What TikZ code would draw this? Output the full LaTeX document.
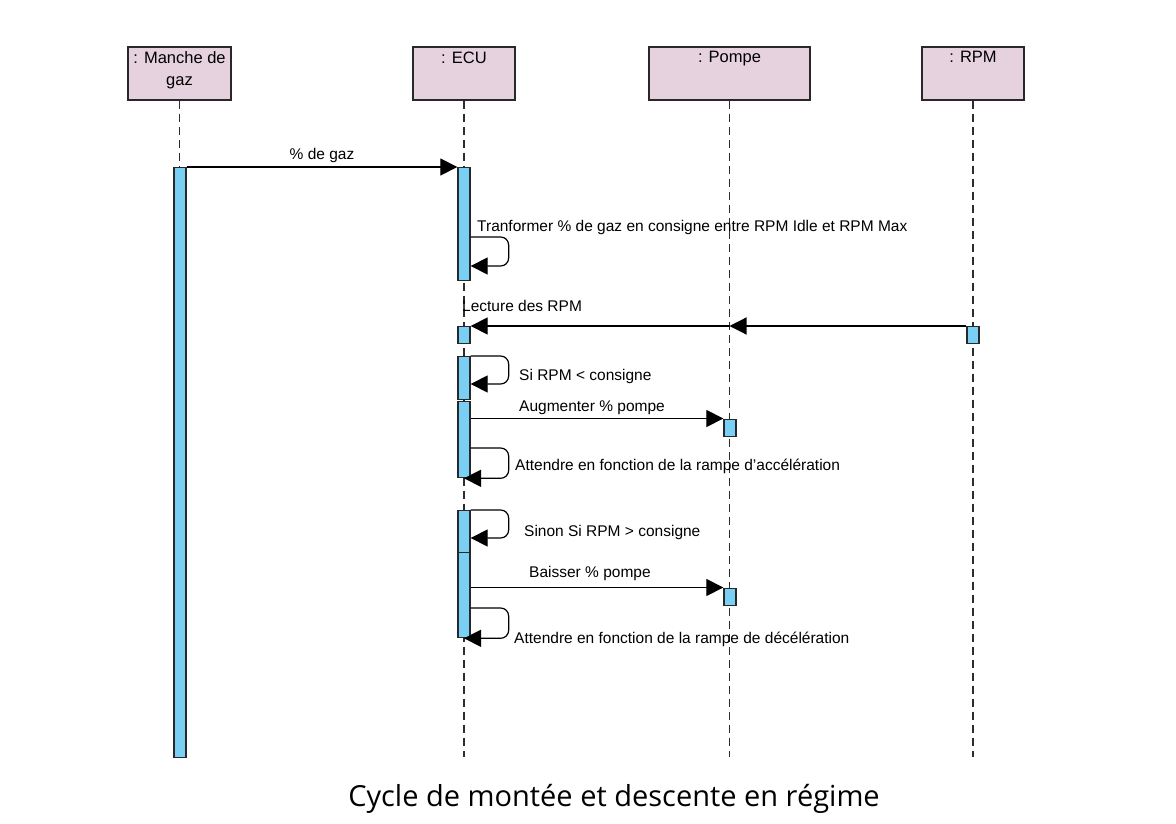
\documentclass[tikz,border=0pt]{standalone}
\usepackage{fontspec}
\setmainfont{Liberation Sans}
\newfontfamily\titlefont{Open Sans}
\usepackage{xcolor}
\definecolor{objfill}{RGB}{230,210,222}
\definecolor{objborder}{RGB}{40,40,40}
\definecolor{actfill}{RGB}{122,207,245}
\definecolor{lifeline}{RGB}{45,45,45}
\usetikzlibrary{positioning}
\usetikzlibrary{arrows.meta}
\usepackage{tikz}

\begin{document}
\begin{tikzpicture}[x=1pt,y=-1pt,font=\fontsize{15.5}{18}\selectfont,
      obj style/.style={rectangle,draw=objborder,fill=objfill,line width=1.3pt,
        minimum height=53pt,inner sep=0pt},
      obj text/.style={anchor=north,yshift=-5pt,inner sep=0pt,align=center,
        font=\fontsize{16.5}{21.5}\selectfont},
      act style/.style={rectangle,draw=objborder,fill=actfill,line width=1.3pt,
        minimum width=12pt,inner sep=0pt,anchor=north},
      life style/.style={draw=lifeline,line width=1.5pt,dash pattern=on 8pt off 5pt},
      msg style/.style={-{Triangle[length=17pt,width=17pt]},line width=1.2pt},
      self style/.style={msg style,rounded corners=8pt},
      lbl style/.style={anchor=base west,inner sep=0pt}
      ]
      \path[use as bounding box,fill=white] (0,0) rectangle (1176,824);

      \node[obj style,minimum width=103pt,label={[obj text]north:{: Manche de\\gaz}}] (manche) at (179.5,73.5) {};
      \node[obj style,minimum width=102pt,label={[obj text]north:{: ECU}}] (ecu) at (464,73.5) {};
      \node[obj style,minimum width=161pt,label={[obj text]north:{: Pompe}}] (pompe) at (729.5,73.5) {};
      \node[obj style,minimum width=102pt,label={[obj text]north:{: RPM}}] (rpm) at (973,73.5) {};

      \coordinate (bottom) at (0,757);
      \foreach \o in {manche,ecu,pompe,rpm}
        \draw[life style] (\o.south) -- (\o.south |- bottom);

      % activations
      \node[act style,minimum height=590pt] (mancheAct) at (180,167) {};
      \node[act style,minimum height=113pt] (ecuAct1) at (464,167) {};
      \node[act style,minimum height=17pt] (ecuAct2) at (464,326) {};
      \node[act style,minimum height=43pt] (ecuAct3) at (464,356) {};
      \node[act style,minimum height=76pt] (ecuAct4) at (464,401) {};
      \node[act style,minimum height=42pt] (ecuAct5) at (464,510) {};
      \node[act style,minimum height=85pt] (ecuAct6) at (464,552) {};
      \node[act style,minimum height=17pt] (pompeAct1) at (730,418.5) {};
      \node[act style,minimum height=17pt] (pompeAct2) at (730,587.5) {};
      \node[act style,minimum height=17pt] (rpmAct) at (973,326) {};

      % messages
      \draw[msg style] (mancheAct.north east) -- node[above=3.5pt,inner sep=0pt] {\% de gaz} (ecuAct1.north west);

      \draw[self style] ([yshift=-70pt]ecuAct1.north east) -- ++(38,0) |- ([yshift=-99pt]ecuAct1.north east);
      \node[lbl style] (lblTrans) at (477,231) {Tranformer \% de gaz en consigne entre RPM Idle et RPM Max};

      \draw[msg style] (rpmAct.north west) -- (rpmAct.north west -| pompe.south);
      \draw[msg style] (rpmAct.north west -| pompe.south) -- (ecuAct2.north east);
      \node[lbl style] (lblLect) at (462,311.5) {Lecture des RPM};

      \draw[self style] (ecuAct3.north east) -- ++(38,0) |- ([yshift=-28pt]ecuAct3.north east);
      \node[lbl style] (lblSi) at (519,380) {Si RPM < consigne};

      \draw[msg style] (ecuAct4.east |- pompeAct1.north) -- (pompeAct1.north west);
      \node[lbl style] (lblAug) at (519,411.7) {Augmenter \% pompe};

      \draw[self style] ([yshift=-47pt]ecuAct4.north east) -- ++(38,0) |- (ecuAct4.south);
      \node[lbl style] (lblAcc) at (515,470) {Attendre en fonction de la rampe d'accélération};

      \draw[self style] (ecuAct5.north east) -- ++(38,0) |- ([yshift=-28pt]ecuAct5.north east);
      \node[lbl style] (lblSinon) at (524,536.7) {Sinon Si RPM > consigne};

      \draw[msg style] (ecuAct6.east |- pompeAct2.north) -- (pompeAct2.north west);
      \node[lbl style] (lblBaisse) at (529,577.3) {Baisser \% pompe};

      \draw[self style] ([yshift=-56pt]ecuAct6.north east) -- ++(38,0) |- (ecuAct6.south);
      \node[lbl style] (lblDec) at (514,643.3) {Attendre en fonction de la rampe de décélération};

      \node[anchor=base,inner sep=0pt,font=\titlefont\fontsize{29}{33}\selectfont] (title) at (614,806.5) {Cycle de montée et descente en régime};
    \end{tikzpicture}
\end{document}
